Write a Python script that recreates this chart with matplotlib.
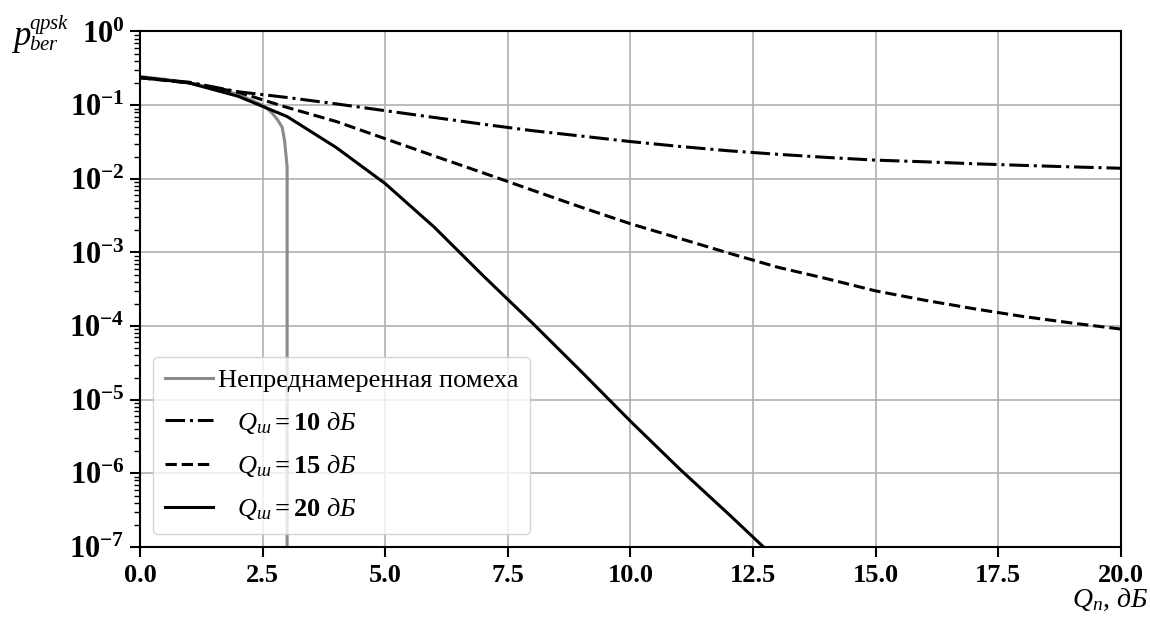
import math

import matplotlib

matplotlib.use("Agg")
import matplotlib.pyplot as plt
from matplotlib.ticker import FuncFormatter, LogLocator, NullFormatter


# непреднамеренная помеха
GRAY_X = [0.0, 0.5, 1.0, 1.5, 2.0, 2.5, 2.6, 2.7, 2.8, 2.9, 2.95, 3.0, 3.0]
GRAY_Y = [0.245, 0.225, 0.2, 0.17, 0.14, 0.1, 0.089, 0.077, 0.064, 0.05, 0.032, 0.0145, 1e-12]

QN = list(range(0, 21))
BER_Q10 = [0.235, 0.205, 0.152, 0.127, 0.104, 0.084, 0.068, 0.055, 0.045, 0.038, 0.032,
           0.0275, 0.024, 0.0215, 0.0195, 0.0179, 0.017, 0.016, 0.0152, 0.0145, 0.0139]
BER_Q15 = [0.235, 0.2, 0.15, 0.093, 0.06, 0.035, 0.0204, 0.012, 0.007, 0.0041, 0.00245,
           0.00155, 0.00098, 6.3e-4, 4.4e-4, 3.0e-4, 2.24e-4, 1.72e-4, 1.35e-4, 1.1e-4, 9.1e-5]
QN20 = list(range(0, 15))
BER_Q20 = [0.24, 0.2, 0.132, 0.07, 0.0266, 0.0086, 0.0022, 4.8e-4, 1.1e-4, 2.4e-5, 5.1e-6,
           1.15e-6, 2.8e-7, 6.6e-8, 1.5e-8]

LABELS = [
    "Непреднамеренная помеха",
    r"$\quad Q_{ш}\mathbf{=10}\ дБ$",
    r"$\quad Q_{ш}\mathbf{=15}\ дБ$",
    r"$\quad Q_{ш}\mathbf{=20}\ дБ$",
]
X_TICKS = [0.0, 2.5, 5.0, 7.5, 10.0, 12.5, 15.0, 17.5, 20.0]

plt.rcParams["font.family"] = ["Liberation Serif", "DejaVu Serif"]
plt.rcParams["mathtext.fontset"] = "custom"
plt.rcParams["mathtext.rm"] = "Liberation Serif"
plt.rcParams["mathtext.it"] = "Liberation Serif:italic"
plt.rcParams["mathtext.bf"] = "Liberation Serif:bold"

fig = plt.figure(figsize=(11.5, 6.26), dpi=100)
ax = fig.add_axes([0.1217, 0.1262, 0.8531, 0.8235])

ax.plot(GRAY_X, GRAY_Y, color="#8a8a8a", linewidth=2.2, label=LABELS[0])
ax.plot(QN, BER_Q10, color="black", linestyle="-.", linewidth=2.2, label=LABELS[1])
ax.plot(QN, BER_Q15, color="black", linestyle="--", linewidth=2.2, label=LABELS[2])
ax.plot(QN20, BER_Q20, color="black", linestyle="-", linewidth=2.2, label=LABELS[3])

ax.set_yscale("log")
ax.set_xlim(0, 20)
ax.set_ylim(1e-7, 1)
ax.set_xticks(X_TICKS)
ax.xaxis.set_major_formatter(FuncFormatter(lambda v, p: f"{v:.1f}"))
ax.yaxis.set_major_locator(LogLocator(base=10, numticks=10))
ax.yaxis.set_minor_locator(LogLocator(base=10, subs=range(2, 10), numticks=20))
ax.yaxis.set_minor_formatter(NullFormatter())
ax.yaxis.set_major_formatter(
    FuncFormatter(lambda v, p: r"$\mathbf{10^{%d}}$" % round(math.log10(v)))
)
for lbl in ax.get_xticklabels():
    lbl.set_fontweight("bold")
ax.tick_params(axis="x", labelsize=19, length=7, width=1.5, pad=5)
ax.tick_params(axis="y", which="major", labelsize=22, length=7, width=1.5, pad=4)
ax.tick_params(axis="y", which="minor", length=4, width=1.0)
for s in ax.spines.values():
    s.set_linewidth(1.5)

ax.grid(True, which="major", color="#b0b0b0", linewidth=1.2)

ax.legend(loc="lower left", fontsize=19, handlelength=1.8, handletextpad=0.2,
          labelspacing=0.65, borderpad=0.45, borderaxespad=0.5)

# подпись оси Y: p с индексами
fig.text(11 / 1150, 1 - 45 / 626, r"$p$", fontsize=25, ha="left", va="baseline")
fig.text(29 / 1150, 1 - 29 / 626, r"$qpsk$", fontsize=15, ha="left", va="baseline")
fig.text(29 / 1150, 1 - 50 / 626, r"$ber$", fontsize=15, ha="left", va="baseline")
fig.text(0.998, 0.03, r"$Q_{n}$, $дБ$", fontsize=20, ha="right", va="baseline")

fig.savefig("out.png", dpi=100)
